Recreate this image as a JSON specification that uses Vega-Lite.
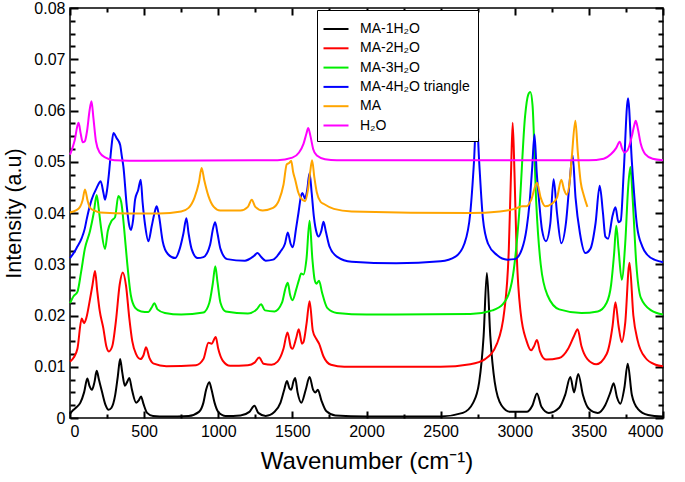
{
"$schema":"https://vega.github.io/schema/vega-lite/v6.json",
"width":593,"height":410,"autosize":"none",
"padding":{"left":70,"top":8,"right":22,"bottom":64},
"background":"white",
"config":{"view":{"stroke":"black","strokeWidth":1.5},"font":"Liberation Sans","axis":{"grid":false,"domain":false,"labelColor":"black","titleColor":"black","titleFontWeight":"normal","labelFont":"Liberation Sans","titleFont":"Liberation Sans"}},
"datasets":{"spec":[
{"s":"MA-1H₂O","x":0,"y":0.0008},{"s":"MA-1H₂O","x":20,"y":0.0015},{"s":"MA-1H₂O","x":40,"y":0.002},{"s":"MA-1H₂O","x":70,"y":0.003},{"s":"MA-1H₂O","x":95,"y":0.005},{"s":"MA-1H₂O","x":117,"y":0.0077},{"s":"MA-1H₂O","x":132,"y":0.0062},{"s":"MA-1H₂O","x":148,"y":0.0055},{"s":"MA-1H₂O","x":165,"y":0.007},{"s":"MA-1H₂O","x":180,"y":0.0092},{"s":"MA-1H₂O","x":195,"y":0.0075},{"s":"MA-1H₂O","x":215,"y":0.0052},{"s":"MA-1H₂O","x":240,"y":0.0025},{"s":"MA-1H₂O","x":260,"y":0.0016},{"s":"MA-1H₂O","x":280,"y":0.002},{"s":"MA-1H₂O","x":305,"y":0.0045},{"s":"MA-1H₂O","x":322,"y":0.008},{"s":"MA-1H₂O","x":338,"y":0.0115},{"s":"MA-1H₂O","x":352,"y":0.009},{"s":"MA-1H₂O","x":370,"y":0.0063},{"s":"MA-1H₂O","x":385,"y":0.007},{"s":"MA-1H₂O","x":400,"y":0.0078},{"s":"MA-1H₂O","x":418,"y":0.0055},{"s":"MA-1H₂O","x":446,"y":0.003},{"s":"MA-1H₂O","x":465,"y":0.0035},{"s":"MA-1H₂O","x":479,"y":0.0042},{"s":"MA-1H₂O","x":495,"y":0.0028},{"s":"MA-1H₂O","x":520,"y":0.001},{"s":"MA-1H₂O","x":560,"y":0.0004},{"s":"MA-1H₂O","x":650,"y":0.0003},{"s":"MA-1H₂O","x":800,"y":0.0004},{"s":"MA-1H₂O","x":870,"y":0.0012},{"s":"MA-1H₂O","x":900,"y":0.003},{"s":"MA-1H₂O","x":918,"y":0.0055},{"s":"MA-1H₂O","x":940,"y":0.007},{"s":"MA-1H₂O","x":955,"y":0.0055},{"s":"MA-1H₂O","x":975,"y":0.003},{"s":"MA-1H₂O","x":1000,"y":0.0012},{"s":"MA-1H₂O","x":1050,"y":0.0004},{"s":"MA-1H₂O","x":1150,"y":0.0005},{"s":"MA-1H₂O","x":1210,"y":0.0012},{"s":"MA-1H₂O","x":1244,"y":0.0024},{"s":"MA-1H₂O","x":1270,"y":0.001},{"s":"MA-1H₂O","x":1320,"y":0.0004},{"s":"MA-1H₂O","x":1380,"y":0.0012},{"s":"MA-1H₂O","x":1420,"y":0.003},{"s":"MA-1H₂O","x":1445,"y":0.0055},{"s":"MA-1H₂O","x":1463,"y":0.0072},{"s":"MA-1H₂O","x":1480,"y":0.0058},{"s":"MA-1H₂O","x":1492,"y":0.0055},{"s":"MA-1H₂O","x":1508,"y":0.0072},{"s":"MA-1H₂O","x":1519,"y":0.0078},{"s":"MA-1H₂O","x":1535,"y":0.005},{"s":"MA-1H₂O","x":1560,"y":0.003},{"s":"MA-1H₂O","x":1590,"y":0.0055},{"s":"MA-1H₂O","x":1616,"y":0.008},{"s":"MA-1H₂O","x":1640,"y":0.0055},{"s":"MA-1H₂O","x":1655,"y":0.005},{"s":"MA-1H₂O","x":1672,"y":0.0055},{"s":"MA-1H₂O","x":1695,"y":0.0035},{"s":"MA-1H₂O","x":1730,"y":0.0013},{"s":"MA-1H₂O","x":1790,"y":0.0005},{"s":"MA-1H₂O","x":2000,"y":0.0003},{"s":"MA-1H₂O","x":2500,"y":0.0003},{"s":"MA-1H₂O","x":2650,"y":0.001},{"s":"MA-1H₂O","x":2720,"y":0.003},{"s":"MA-1H₂O","x":2760,"y":0.007},{"s":"MA-1H₂O","x":2790,"y":0.016},{"s":"MA-1H₂O","x":2812,"y":0.0283},{"s":"MA-1H₂O","x":2835,"y":0.016},{"s":"MA-1H₂O","x":2865,"y":0.007},{"s":"MA-1H₂O","x":2910,"y":0.0025},{"s":"MA-1H₂O","x":2970,"y":0.0012},{"s":"MA-1H₂O","x":3037,"y":0.0012},{"s":"MA-1H₂O","x":3080,"y":0.0012},{"s":"MA-1H₂O","x":3120,"y":0.0025},{"s":"MA-1H₂O","x":3150,"y":0.0048},{"s":"MA-1H₂O","x":3180,"y":0.0022},{"s":"MA-1H₂O","x":3230,"y":0.001},{"s":"MA-1H₂O","x":3300,"y":0.002},{"s":"MA-1H₂O","x":3340,"y":0.0045},{"s":"MA-1H₂O","x":3375,"y":0.008},{"s":"MA-1H₂O","x":3400,"y":0.005},{"s":"MA-1H₂O","x":3428,"y":0.0086},{"s":"MA-1H₂O","x":3460,"y":0.0045},{"s":"MA-1H₂O","x":3500,"y":0.0018},{"s":"MA-1H₂O","x":3560,"y":0.001},{"s":"MA-1H₂O","x":3610,"y":0.0025},{"s":"MA-1H₂O","x":3645,"y":0.005},{"s":"MA-1H₂O","x":3667,"y":0.0068},{"s":"MA-1H₂O","x":3690,"y":0.004},{"s":"MA-1H₂O","x":3712,"y":0.0028},{"s":"MA-1H₂O","x":3740,"y":0.006},{"s":"MA-1H₂O","x":3762,"y":0.0106},{"s":"MA-1H₂O","x":3790,"y":0.0045},{"s":"MA-1H₂O","x":3830,"y":0.0018},{"s":"MA-1H₂O","x":3900,"y":0.0006},{"s":"MA-1H₂O","x":4000,"y":0.0003},
{"s":"MA-2H₂O","x":0,"y":0.011},{"s":"MA-2H₂O","x":25,"y":0.0118},{"s":"MA-2H₂O","x":50,"y":0.0135},{"s":"MA-2H₂O","x":79,"y":0.0194},{"s":"MA-2H₂O","x":95,"y":0.0185},{"s":"MA-2H₂O","x":110,"y":0.0195},{"s":"MA-2H₂O","x":135,"y":0.0232},{"s":"MA-2H₂O","x":152,"y":0.026},{"s":"MA-2H₂O","x":169,"y":0.0287},{"s":"MA-2H₂O","x":183,"y":0.025},{"s":"MA-2H₂O","x":200,"y":0.021},{"s":"MA-2H₂O","x":225,"y":0.0175},{"s":"MA-2H₂O","x":245,"y":0.014},{"s":"MA-2H₂O","x":262,"y":0.013},{"s":"MA-2H₂O","x":285,"y":0.014},{"s":"MA-2H₂O","x":310,"y":0.019},{"s":"MA-2H₂O","x":335,"y":0.026},{"s":"MA-2H₂O","x":356,"y":0.0284},{"s":"MA-2H₂O","x":378,"y":0.0258},{"s":"MA-2H₂O","x":400,"y":0.0195},{"s":"MA-2H₂O","x":420,"y":0.015},{"s":"MA-2H₂O","x":445,"y":0.0125},{"s":"MA-2H₂O","x":475,"y":0.0115},{"s":"MA-2H₂O","x":495,"y":0.0122},{"s":"MA-2H₂O","x":513,"y":0.0138},{"s":"MA-2H₂O","x":535,"y":0.0118},{"s":"MA-2H₂O","x":565,"y":0.0106},{"s":"MA-2H₂O","x":650,"y":0.0101},{"s":"MA-2H₂O","x":850,"y":0.0103},{"s":"MA-2H₂O","x":900,"y":0.0115},{"s":"MA-2H₂O","x":934,"y":0.0147},{"s":"MA-2H₂O","x":955,"y":0.0145},{"s":"MA-2H₂O","x":983,"y":0.0158},{"s":"MA-2H₂O","x":1000,"y":0.0135},{"s":"MA-2H₂O","x":1030,"y":0.0112},{"s":"MA-2H₂O","x":1080,"y":0.0102},{"s":"MA-2H₂O","x":1200,"y":0.0103},{"s":"MA-2H₂O","x":1245,"y":0.0108},{"s":"MA-2H₂O","x":1276,"y":0.0118},{"s":"MA-2H₂O","x":1305,"y":0.0106},{"s":"MA-2H₂O","x":1360,"y":0.0104},{"s":"MA-2H₂O","x":1400,"y":0.011},{"s":"MA-2H₂O","x":1440,"y":0.0135},{"s":"MA-2H₂O","x":1467,"y":0.0167},{"s":"MA-2H₂O","x":1490,"y":0.0138},{"s":"MA-2H₂O","x":1500,"y":0.0135},{"s":"MA-2H₂O","x":1525,"y":0.0155},{"s":"MA-2H₂O","x":1543,"y":0.0173},{"s":"MA-2H₂O","x":1565,"y":0.0145},{"s":"MA-2H₂O","x":1575,"y":0.0148},{"s":"MA-2H₂O","x":1596,"y":0.0185},{"s":"MA-2H₂O","x":1616,"y":0.0228},{"s":"MA-2H₂O","x":1638,"y":0.017},{"s":"MA-2H₂O","x":1660,"y":0.0155},{"s":"MA-2H₂O","x":1680,"y":0.0145},{"s":"MA-2H₂O","x":1710,"y":0.012},{"s":"MA-2H₂O","x":1760,"y":0.0104},{"s":"MA-2H₂O","x":1850,"y":0.01},{"s":"MA-2H₂O","x":2500,"y":0.01},{"s":"MA-2H₂O","x":2700,"y":0.0105},{"s":"MA-2H₂O","x":2800,"y":0.0115},{"s":"MA-2H₂O","x":2880,"y":0.0145},{"s":"MA-2H₂O","x":2930,"y":0.021},{"s":"MA-2H₂O","x":2960,"y":0.033},{"s":"MA-2H₂O","x":2975,"y":0.048},{"s":"MA-2H₂O","x":2986,"y":0.0576},{"s":"MA-2H₂O","x":2998,"y":0.048},{"s":"MA-2H₂O","x":3012,"y":0.033},{"s":"MA-2H₂O","x":3040,"y":0.0205},{"s":"MA-2H₂O","x":3080,"y":0.015},{"s":"MA-2H₂O","x":3110,"y":0.0132},{"s":"MA-2H₂O","x":3130,"y":0.014},{"s":"MA-2H₂O","x":3150,"y":0.0152},{"s":"MA-2H₂O","x":3170,"y":0.013},{"s":"MA-2H₂O","x":3210,"y":0.0114},{"s":"MA-2H₂O","x":3300,"y":0.0117},{"s":"MA-2H₂O","x":3360,"y":0.0135},{"s":"MA-2H₂O","x":3400,"y":0.016},{"s":"MA-2H₂O","x":3424,"y":0.0173},{"s":"MA-2H₂O","x":3450,"y":0.014},{"s":"MA-2H₂O","x":3490,"y":0.0115},{"s":"MA-2H₂O","x":3550,"y":0.0105},{"s":"MA-2H₂O","x":3620,"y":0.0125},{"s":"MA-2H₂O","x":3660,"y":0.018},{"s":"MA-2H₂O","x":3679,"y":0.0226},{"s":"MA-2H₂O","x":3700,"y":0.018},{"s":"MA-2H₂O","x":3722,"y":0.0148},{"s":"MA-2H₂O","x":3745,"y":0.0185},{"s":"MA-2H₂O","x":3774,"y":0.0303},{"s":"MA-2H₂O","x":3800,"y":0.02},{"s":"MA-2H₂O","x":3830,"y":0.015},{"s":"MA-2H₂O","x":3880,"y":0.0118},{"s":"MA-2H₂O","x":3950,"y":0.0104},{"s":"MA-2H₂O","x":4000,"y":0.0101},
{"s":"MA-3H₂O","x":0,"y":0.0224},{"s":"MA-3H₂O","x":25,"y":0.0238},{"s":"MA-3H₂O","x":50,"y":0.0246},{"s":"MA-3H₂O","x":75,"y":0.0285},{"s":"MA-3H₂O","x":100,"y":0.033},{"s":"MA-3H₂O","x":135,"y":0.0365},{"s":"MA-3H₂O","x":160,"y":0.04},{"s":"MA-3H₂O","x":180,"y":0.0435},{"s":"MA-3H₂O","x":195,"y":0.0405},{"s":"MA-3H₂O","x":210,"y":0.037},{"s":"MA-3H₂O","x":236,"y":0.033},{"s":"MA-3H₂O","x":255,"y":0.0365},{"s":"MA-3H₂O","x":281,"y":0.0385},{"s":"MA-3H₂O","x":304,"y":0.0392},{"s":"MA-3H₂O","x":326,"y":0.0433},{"s":"MA-3H₂O","x":345,"y":0.0422},{"s":"MA-3H₂O","x":365,"y":0.037},{"s":"MA-3H₂O","x":385,"y":0.0305},{"s":"MA-3H₂O","x":410,"y":0.024},{"s":"MA-3H₂O","x":440,"y":0.0215},{"s":"MA-3H₂O","x":480,"y":0.0208},{"s":"MA-3H₂O","x":529,"y":0.0207},{"s":"MA-3H₂O","x":550,"y":0.0215},{"s":"MA-3H₂O","x":569,"y":0.0224},{"s":"MA-3H₂O","x":590,"y":0.0212},{"s":"MA-3H₂O","x":640,"y":0.0205},{"s":"MA-3H₂O","x":750,"y":0.0202},{"s":"MA-3H₂O","x":900,"y":0.0206},{"s":"MA-3H₂O","x":940,"y":0.0225},{"s":"MA-3H₂O","x":963,"y":0.0262},{"s":"MA-3H₂O","x":980,"y":0.0296},{"s":"MA-3H₂O","x":995,"y":0.0265},{"s":"MA-3H₂O","x":1015,"y":0.0225},{"s":"MA-3H₂O","x":1050,"y":0.0208},{"s":"MA-3H₂O","x":1200,"y":0.0204},{"s":"MA-3H₂O","x":1260,"y":0.0212},{"s":"MA-3H₂O","x":1289,"y":0.0222},{"s":"MA-3H₂O","x":1315,"y":0.021},{"s":"MA-3H₂O","x":1380,"y":0.0208},{"s":"MA-3H₂O","x":1430,"y":0.0225},{"s":"MA-3H₂O","x":1455,"y":0.0255},{"s":"MA-3H₂O","x":1469,"y":0.0264},{"s":"MA-3H₂O","x":1485,"y":0.024},{"s":"MA-3H₂O","x":1501,"y":0.023},{"s":"MA-3H₂O","x":1525,"y":0.025},{"s":"MA-3H₂O","x":1545,"y":0.027},{"s":"MA-3H₂O","x":1559,"y":0.0282},{"s":"MA-3H₂O","x":1575,"y":0.028},{"s":"MA-3H₂O","x":1595,"y":0.031},{"s":"MA-3H₂O","x":1616,"y":0.0385},{"s":"MA-3H₂O","x":1635,"y":0.031},{"s":"MA-3H₂O","x":1650,"y":0.027},{"s":"MA-3H₂O","x":1662,"y":0.0262},{"s":"MA-3H₂O","x":1680,"y":0.0268},{"s":"MA-3H₂O","x":1700,"y":0.0245},{"s":"MA-3H₂O","x":1735,"y":0.0215},{"s":"MA-3H₂O","x":1800,"y":0.0205},{"s":"MA-3H₂O","x":2000,"y":0.0202},{"s":"MA-3H₂O","x":2700,"y":0.0203},{"s":"MA-3H₂O","x":2850,"y":0.021},{"s":"MA-3H₂O","x":2920,"y":0.0222},{"s":"MA-3H₂O","x":2980,"y":0.0265},{"s":"MA-3H₂O","x":3030,"y":0.04},{"s":"MA-3H₂O","x":3070,"y":0.059},{"s":"MA-3H₂O","x":3090,"y":0.063},{"s":"MA-3H₂O","x":3105,"y":0.0636},{"s":"MA-3H₂O","x":3120,"y":0.061},{"s":"MA-3H₂O","x":3145,"y":0.042},{"s":"MA-3H₂O","x":3175,"y":0.03},{"s":"MA-3H₂O","x":3220,"y":0.024},{"s":"MA-3H₂O","x":3300,"y":0.0212},{"s":"MA-3H₂O","x":3450,"y":0.0205},{"s":"MA-3H₂O","x":3560,"y":0.0208},{"s":"MA-3H₂O","x":3620,"y":0.0225},{"s":"MA-3H₂O","x":3650,"y":0.026},{"s":"MA-3H₂O","x":3670,"y":0.032},{"s":"MA-3H₂O","x":3685,"y":0.0375},{"s":"MA-3H₂O","x":3700,"y":0.033},{"s":"MA-3H₂O","x":3722,"y":0.027},{"s":"MA-3H₂O","x":3745,"y":0.034},{"s":"MA-3H₂O","x":3765,"y":0.045},{"s":"MA-3H₂O","x":3780,"y":0.049},{"s":"MA-3H₂O","x":3795,"y":0.043},{"s":"MA-3H₂O","x":3820,"y":0.03},{"s":"MA-3H₂O","x":3850,"y":0.0235},{"s":"MA-3H₂O","x":3920,"y":0.021},{"s":"MA-3H₂O","x":4000,"y":0.0202},
{"s":"MA-4H₂O triangle","x":0,"y":0.0312},{"s":"MA-4H₂O triangle","x":25,"y":0.0322},{"s":"MA-4H₂O triangle","x":45,"y":0.0332},{"s":"MA-4H₂O triangle","x":79,"y":0.0351},{"s":"MA-4H₂O triangle","x":100,"y":0.037},{"s":"MA-4H₂O triangle","x":112,"y":0.0387},{"s":"MA-4H₂O triangle","x":146,"y":0.0426},{"s":"MA-4H₂O triangle","x":180,"y":0.0449},{"s":"MA-4H₂O triangle","x":207,"y":0.0462},{"s":"MA-4H₂O triangle","x":225,"y":0.044},{"s":"MA-4H₂O triangle","x":236,"y":0.0426},{"s":"MA-4H₂O triangle","x":250,"y":0.0445},{"s":"MA-4H₂O triangle","x":262,"y":0.0475},{"s":"MA-4H₂O triangle","x":280,"y":0.053},{"s":"MA-4H₂O triangle","x":293,"y":0.0556},{"s":"MA-4H₂O triangle","x":315,"y":0.0546},{"s":"MA-4H₂O triangle","x":338,"y":0.0533},{"s":"MA-4H₂O triangle","x":350,"y":0.051},{"s":"MA-4H₂O triangle","x":360,"y":0.0491},{"s":"MA-4H₂O triangle","x":383,"y":0.0413},{"s":"MA-4H₂O triangle","x":400,"y":0.0375},{"s":"MA-4H₂O triangle","x":412,"y":0.0367},{"s":"MA-4H₂O triangle","x":425,"y":0.0385},{"s":"MA-4H₂O triangle","x":439,"y":0.0426},{"s":"MA-4H₂O triangle","x":460,"y":0.0445},{"s":"MA-4H₂O triangle","x":477,"y":0.0465},{"s":"MA-4H₂O triangle","x":490,"y":0.042},{"s":"MA-4H₂O triangle","x":505,"y":0.038},{"s":"MA-4H₂O triangle","x":529,"y":0.0345},{"s":"MA-4H₂O triangle","x":551,"y":0.0374},{"s":"MA-4H₂O triangle","x":570,"y":0.04},{"s":"MA-4H₂O triangle","x":585,"y":0.0413},{"s":"MA-4H₂O triangle","x":600,"y":0.0395},{"s":"MA-4H₂O triangle","x":625,"y":0.0345},{"s":"MA-4H₂O triangle","x":660,"y":0.032},{"s":"MA-4H₂O triangle","x":710,"y":0.0312},{"s":"MA-4H₂O triangle","x":740,"y":0.033},{"s":"MA-4H₂O triangle","x":765,"y":0.036},{"s":"MA-4H₂O triangle","x":785,"y":0.039},{"s":"MA-4H₂O triangle","x":800,"y":0.036},{"s":"MA-4H₂O triangle","x":820,"y":0.033},{"s":"MA-4H₂O triangle","x":860,"y":0.0312},{"s":"MA-4H₂O triangle","x":900,"y":0.0314},{"s":"MA-4H₂O triangle","x":945,"y":0.0338},{"s":"MA-4H₂O triangle","x":965,"y":0.037},{"s":"MA-4H₂O triangle","x":979,"y":0.0382},{"s":"MA-4H₂O triangle","x":995,"y":0.036},{"s":"MA-4H₂O triangle","x":1015,"y":0.033},{"s":"MA-4H₂O triangle","x":1060,"y":0.031},{"s":"MA-4H₂O triangle","x":1180,"y":0.0307},{"s":"MA-4H₂O triangle","x":1240,"y":0.0316},{"s":"MA-4H₂O triangle","x":1265,"y":0.0322},{"s":"MA-4H₂O triangle","x":1290,"y":0.0314},{"s":"MA-4H₂O triangle","x":1320,"y":0.0307},{"s":"MA-4H₂O triangle","x":1370,"y":0.0309},{"s":"MA-4H₂O triangle","x":1420,"y":0.0325},{"s":"MA-4H₂O triangle","x":1450,"y":0.034},{"s":"MA-4H₂O triangle","x":1469,"y":0.0362},{"s":"MA-4H₂O triangle","x":1488,"y":0.034},{"s":"MA-4H₂O triangle","x":1503,"y":0.0333},{"s":"MA-4H₂O triangle","x":1525,"y":0.037},{"s":"MA-4H₂O triangle","x":1541,"y":0.04},{"s":"MA-4H₂O triangle","x":1560,"y":0.0435},{"s":"MA-4H₂O triangle","x":1568,"y":0.0439},{"s":"MA-4H₂O triangle","x":1585,"y":0.0428},{"s":"MA-4H₂O triangle","x":1600,"y":0.0445},{"s":"MA-4H₂O triangle","x":1616,"y":0.0478},{"s":"MA-4H₂O triangle","x":1630,"y":0.044},{"s":"MA-4H₂O triangle","x":1645,"y":0.0393},{"s":"MA-4H₂O triangle","x":1665,"y":0.036},{"s":"MA-4H₂O triangle","x":1676,"y":0.0354},{"s":"MA-4H₂O triangle","x":1695,"y":0.0365},{"s":"MA-4H₂O triangle","x":1710,"y":0.0383},{"s":"MA-4H₂O triangle","x":1725,"y":0.0365},{"s":"MA-4H₂O triangle","x":1750,"y":0.0335},{"s":"MA-4H₂O triangle","x":1800,"y":0.0315},{"s":"MA-4H₂O triangle","x":1900,"y":0.0305},{"s":"MA-4H₂O triangle","x":2200,"y":0.0302},{"s":"MA-4H₂O triangle","x":2500,"y":0.0306},{"s":"MA-4H₂O triangle","x":2600,"y":0.0315},{"s":"MA-4H₂O triangle","x":2660,"y":0.034},{"s":"MA-4H₂O triangle","x":2700,"y":0.04},{"s":"MA-4H₂O triangle","x":2725,"y":0.05},{"s":"MA-4H₂O triangle","x":2742,"y":0.059},{"s":"MA-4H₂O triangle","x":2760,"y":0.05},{"s":"MA-4H₂O triangle","x":2785,"y":0.039},{"s":"MA-4H₂O triangle","x":2820,"y":0.034},{"s":"MA-4H₂O triangle","x":2880,"y":0.0318},{"s":"MA-4H₂O triangle","x":2950,"y":0.0309},{"s":"MA-4H₂O triangle","x":3000,"y":0.031},{"s":"MA-4H₂O triangle","x":3049,"y":0.033},{"s":"MA-4H₂O triangle","x":3080,"y":0.037},{"s":"MA-4H₂O triangle","x":3100,"y":0.042},{"s":"MA-4H₂O triangle","x":3118,"y":0.049},{"s":"MA-4H₂O triangle","x":3133,"y":0.0553},{"s":"MA-4H₂O triangle","x":3148,"y":0.048},{"s":"MA-4H₂O triangle","x":3165,"y":0.042},{"s":"MA-4H₂O triangle","x":3184,"y":0.0367},{"s":"MA-4H₂O triangle","x":3210,"y":0.0345},{"s":"MA-4H₂O triangle","x":3240,"y":0.038},{"s":"MA-4H₂O triangle","x":3262,"y":0.0466},{"s":"MA-4H₂O triangle","x":3285,"y":0.04},{"s":"MA-4H₂O triangle","x":3314,"y":0.0341},{"s":"MA-4H₂O triangle","x":3345,"y":0.038},{"s":"MA-4H₂O triangle","x":3370,"y":0.046},{"s":"MA-4H₂O triangle","x":3390,"y":0.0513},{"s":"MA-4H₂O triangle","x":3410,"y":0.043},{"s":"MA-4H₂O triangle","x":3440,"y":0.036},{"s":"MA-4H₂O triangle","x":3476,"y":0.0322},{"s":"MA-4H₂O triangle","x":3510,"y":0.033},{"s":"MA-4H₂O triangle","x":3545,"y":0.038},{"s":"MA-4H₂O triangle","x":3573,"y":0.0453},{"s":"MA-4H₂O triangle","x":3595,"y":0.04},{"s":"MA-4H₂O triangle","x":3611,"y":0.0354},{"s":"MA-4H₂O triangle","x":3630,"y":0.035},{"s":"MA-4H₂O triangle","x":3660,"y":0.0395},{"s":"MA-4H₂O triangle","x":3679,"y":0.0411},{"s":"MA-4H₂O triangle","x":3700,"y":0.0382},{"s":"MA-4H₂O triangle","x":3715,"y":0.0385},{"s":"MA-4H₂O triangle","x":3735,"y":0.048},{"s":"MA-4H₂O triangle","x":3764,"y":0.0624},{"s":"MA-4H₂O triangle","x":3790,"y":0.05},{"s":"MA-4H₂O triangle","x":3825,"y":0.0374},{"s":"MA-4H₂O triangle","x":3860,"y":0.0335},{"s":"MA-4H₂O triangle","x":3892,"y":0.0319},{"s":"MA-4H₂O triangle","x":3950,"y":0.0308},{"s":"MA-4H₂O triangle","x":4000,"y":0.0304},
{"s":"MA","x":0,"y":0.0401},{"s":"MA","x":40,"y":0.0405},{"s":"MA","x":68,"y":0.0412},{"s":"MA","x":85,"y":0.0425},{"s":"MA","x":101,"y":0.0446},{"s":"MA","x":118,"y":0.0425},{"s":"MA","x":135,"y":0.041},{"s":"MA","x":170,"y":0.0404},{"s":"MA","x":203,"y":0.0401},{"s":"MA","x":400,"y":0.0399},{"s":"MA","x":600,"y":0.0399},{"s":"MA","x":750,"y":0.0403},{"s":"MA","x":800,"y":0.041},{"s":"MA","x":840,"y":0.043},{"s":"MA","x":870,"y":0.046},{"s":"MA","x":888,"y":0.0488},{"s":"MA","x":905,"y":0.0465},{"s":"MA","x":934,"y":0.0433},{"s":"MA","x":970,"y":0.0412},{"s":"MA","x":1013,"y":0.0405},{"s":"MA","x":1150,"y":0.0405},{"s":"MA","x":1200,"y":0.0412},{"s":"MA","x":1226,"y":0.0426},{"s":"MA","x":1250,"y":0.0412},{"s":"MA","x":1300,"y":0.0405},{"s":"MA","x":1370,"y":0.041},{"s":"MA","x":1410,"y":0.0425},{"s":"MA","x":1440,"y":0.0455},{"s":"MA","x":1462,"y":0.0495},{"s":"MA","x":1480,"y":0.0498},{"s":"MA","x":1492,"y":0.0502},{"s":"MA","x":1505,"y":0.048},{"s":"MA","x":1519,"y":0.0465},{"s":"MA","x":1540,"y":0.044},{"s":"MA","x":1560,"y":0.0428},{"s":"MA","x":1586,"y":0.0423},{"s":"MA","x":1605,"y":0.0445},{"s":"MA","x":1620,"y":0.048},{"s":"MA","x":1633,"y":0.0503},{"s":"MA","x":1648,"y":0.047},{"s":"MA","x":1665,"y":0.044},{"s":"MA","x":1690,"y":0.0422},{"s":"MA","x":1710,"y":0.0418},{"s":"MA","x":1780,"y":0.0408},{"s":"MA","x":1900,"y":0.0403},{"s":"MA","x":2700,"y":0.04},{"s":"MA","x":2900,"y":0.0403},{"s":"MA","x":3000,"y":0.0408},{"s":"MA","x":3050,"y":0.0413},{"s":"MA","x":3080,"y":0.0413},{"s":"MA","x":3110,"y":0.0425},{"s":"MA","x":3150,"y":0.0459},{"s":"MA","x":3175,"y":0.043},{"s":"MA","x":3206,"y":0.0413},{"s":"MA","x":3250,"y":0.0418},{"s":"MA","x":3285,"y":0.043},{"s":"MA","x":3314,"y":0.0465},{"s":"MA","x":3333,"y":0.0445},{"s":"MA","x":3350,"y":0.0436},{"s":"MA","x":3370,"y":0.046},{"s":"MA","x":3385,"y":0.051},{"s":"MA","x":3409,"y":0.058},{"s":"MA","x":3425,"y":0.052},{"s":"MA","x":3445,"y":0.046},{"s":"MA","x":3465,"y":0.0435},{"s":"MA","x":3490,"y":0.0412},
{"s":"H₂O","x":0,"y":0.0514},{"s":"H₂O","x":20,"y":0.053},{"s":"H₂O","x":34,"y":0.0545},{"s":"H₂O","x":48,"y":0.0568},{"s":"H₂O","x":58,"y":0.0576},{"s":"H₂O","x":72,"y":0.0555},{"s":"H₂O","x":86,"y":0.0538},{"s":"H₂O","x":100,"y":0.054},{"s":"H₂O","x":115,"y":0.056},{"s":"H₂O","x":132,"y":0.06},{"s":"H₂O","x":145,"y":0.0618},{"s":"H₂O","x":158,"y":0.0585},{"s":"H₂O","x":175,"y":0.054},{"s":"H₂O","x":200,"y":0.0518},{"s":"H₂O","x":240,"y":0.0508},{"s":"H₂O","x":300,"y":0.0503},{"s":"H₂O","x":500,"y":0.0502},{"s":"H₂O","x":1400,"y":0.0503},{"s":"H₂O","x":1500,"y":0.0508},{"s":"H₂O","x":1545,"y":0.0518},{"s":"H₂O","x":1575,"y":0.0535},{"s":"H₂O","x":1595,"y":0.0555},{"s":"H₂O","x":1607,"y":0.0566},{"s":"H₂O","x":1622,"y":0.055},{"s":"H₂O","x":1640,"y":0.0525},{"s":"H₂O","x":1665,"y":0.0512},{"s":"H₂O","x":1720,"y":0.0505},{"s":"H₂O","x":1800,"y":0.0503},{"s":"H₂O","x":3500,"y":0.0503},{"s":"H₂O","x":3600,"y":0.0506},{"s":"H₂O","x":3650,"y":0.0515},{"s":"H₂O","x":3685,"y":0.0527},{"s":"H₂O","x":3708,"y":0.0539},{"s":"H₂O","x":3725,"y":0.0525},{"s":"H₂O","x":3740,"y":0.0518},{"s":"H₂O","x":3760,"y":0.0522},{"s":"H₂O","x":3790,"y":0.055},{"s":"H₂O","x":3805,"y":0.057},{"s":"H₂O","x":3816,"y":0.058},{"s":"H₂O","x":3830,"y":0.0565},{"s":"H₂O","x":3850,"y":0.0535},{"s":"H₂O","x":3880,"y":0.0515},{"s":"H₂O","x":3930,"y":0.0506},{"s":"H₂O","x":4000,"y":0.0503}
]},
"data":{"name":"spec"},
"layer":[
{"mark":{"type":"line","strokeWidth":2,"interpolate":"monotone"},
 "encoding":{
  "x":{"field":"x","type":"quantitative","scale":{"domain":[0,4000],"nice":false,"zero":false},
   "axis":{"orient":"bottom","values":[0,500,1000,1500,2000,2500,3000,3500,4000],"format":"d","tickSize":-7,"tickColor":"#000000","tickWidth":2,
    "labelFontSize":16,"labelPadding":12,
    "title":"Wavenumber (cm⁻¹)","titleFontSize":24,"titlePadding":10}},
  "y":{"field":"y","type":"quantitative","scale":{"domain":[0,0.08],"nice":false},
   "axis":{"orient":"left","values":[0,0.01,0.02,0.03,0.04,0.05,0.06,0.07,0.08],"tickSize":-8,"tickColor":"#000000","tickWidth":2,
    "labelExpr":"datum.value === 0 ? '0' : format(datum.value, '.2f')",
    "labelFontSize":16,"labelPadding":13,
    "title":"Intensity (a.u)","titleFontSize":21.5,"titlePadding":8}},
  "color":{"field":"s","type":"nominal",
   "scale":{"domain":["MA-1H₂O","MA-2H₂O","MA-3H₂O","MA-4H₂O triangle","MA","H₂O"],"range":["#000000","#ff0000","#00ee00","#0000ff","#ffa500","#ff00ff"]},
   "legend":{"orient":"none","legendX":247,"legendY":2,"title":null,"symbolType":"M-1.25,0H1.25","symbolSize":400,"symbolStrokeWidth":2,
    "labelFontSize":14,"labelFont":"Liberation Sans","labelColor":"black","strokeColor":"black","fillColor":"white","padding":8,"rowPadding":1.3,"labelOffset":13,"labelLimit":300}}
 }},
{"mark":{"type":"line","opacity":0},
 "encoding":{
  "x":{"field":"x","type":"quantitative","scale":{"domain":[0,4000],"nice":false,"zero":false},
   "axis":{"orient":"top","values":[0,500,1000,1500,2000,2500,3000,3500,4000],"labels":false,"tickSize":-7,"tickColor":"#000000","tickWidth":2,"title":null}},
  "y":{"field":"y","type":"quantitative","scale":{"domain":[0,0.08],"nice":false},
   "axis":{"orient":"right","values":[0,0.01,0.02,0.03,0.04,0.05,0.06,0.07,0.08],"labels":false,"tickSize":-8,"tickColor":"#000000","tickWidth":2,"title":null}},
  "detail":{"field":"s"}
 }},
{"mark":{"type":"line","opacity":0},
 "encoding":{
  "x":{"field":"x","type":"quantitative","scale":{"domain":[0,4000],"nice":false,"zero":false},
   "axis":{"orient":"bottom","values":[250,750,1250,1750,2250,2750,3250,3750],"labels":false,"tickSize":-4,"tickColor":"#000000","tickWidth":2,"title":null}},
  "y":{"field":"y","type":"quantitative","scale":{"domain":[0,0.08],"nice":false},
   "axis":{"orient":"left","values":[0.0025,0.005,0.0075,0.0125,0.015,0.0175,0.0225,0.025,0.0275,0.0325,0.035,0.0375,0.0425,0.045,0.0475,0.0525,0.055,0.0575,0.0625,0.065,0.0675,0.0725,0.075,0.0775],"labels":false,"tickSize":-5,"tickColor":"#000000","tickWidth":2,"title":null}},
  "detail":{"field":"s"}
 }},
{"mark":{"type":"line","opacity":0},
 "encoding":{
  "x":{"field":"x","type":"quantitative","scale":{"domain":[0,4000],"nice":false,"zero":false},
   "axis":{"orient":"top","values":[250,750,1250,1750,2250,2750,3250,3750],"labels":false,"tickSize":-4,"tickColor":"#000000","tickWidth":2,"title":null}},
  "y":{"field":"y","type":"quantitative","scale":{"domain":[0,0.08],"nice":false},
   "axis":{"orient":"right","values":[0.0025,0.005,0.0075,0.0125,0.015,0.0175,0.0225,0.025,0.0275,0.0325,0.035,0.0375,0.0425,0.045,0.0475,0.0525,0.055,0.0575,0.0625,0.065,0.0675,0.0725,0.075,0.0775],"labels":false,"tickSize":-5,"tickColor":"#000000","tickWidth":2,"title":null}},
  "detail":{"field":"s"}
 }}
],
"resolve":{"axis":{"x":"independent","y":"independent"}}
}
